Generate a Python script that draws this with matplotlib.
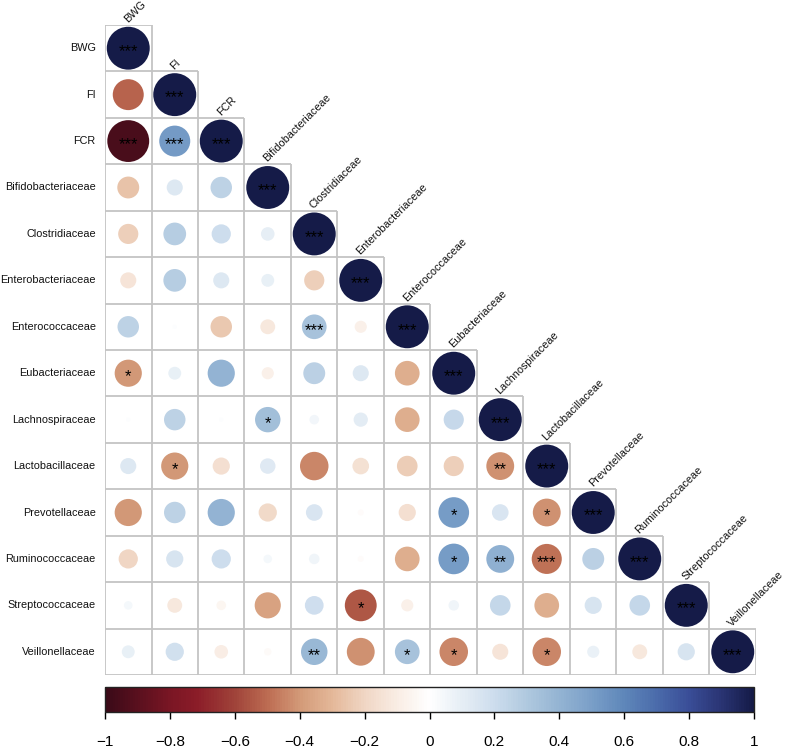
import numpy as np
import matplotlib
matplotlib.use("Agg")
import matplotlib.pyplot as plt
from matplotlib.colors import LinearSegmentedColormap, Normalize
from matplotlib.patches import Circle
from matplotlib.collections import PatchCollection
from matplotlib.colorbar import ColorbarBase

plt.rcParams['font.family'] = ['Liberation Sans', 'DejaVu Sans']

labels = ["BWG", "FI", "FCR", "Bifidobacteriaceae", "Clostridiaceae",
          "Enterobacteriaceae", "Enterococcaceae", "Eubacteriaceae",
          "Lachnospiraceae", "Lactobacillaceae", "Prevotellaceae",
          "Ruminococcaceae", "Streptococcaceae", "Veillonellaceae"]

# lower-triangle correlation values (row i, columns 0..i)
corr_rows = [
    [1],
    [-0.52, 1],
    [-0.95, 0.52, 1],
    [-0.26, 0.14, 0.25, 1],
    [-0.22, 0.28, 0.20, 0.10, 1],
    [-0.14, 0.28, 0.14, 0.09, -0.22, 1],
    [0.25, 0.01, -0.25, -0.12, 0.33, -0.08, 1],
    [-0.40, 0.09, 0.40, -0.08, 0.26, 0.14, -0.33, 1],
    [0.01, 0.25, 0.01, 0.35, 0.05, 0.11, -0.33, 0.22, 1],
    [0.14, -0.40, -0.16, 0.13, -0.44, -0.15, -0.23, -0.22, -0.42, 1],
    [-0.40, 0.25, 0.40, -0.18, 0.15, -0.02, -0.16, 0.51, 0.15, -0.42, 1],
    [-0.20, 0.16, 0.20, 0.04, 0.06, -0.02, -0.33, 0.51, 0.42, -0.49, 0.26, 1],
    [0.04, -0.12, -0.05, -0.37, 0.19, -0.55, -0.08, 0.06, 0.23, -0.33, 0.16, 0.23, 1],
    [0.09, 0.18, -0.10, -0.03, 0.38, -0.42, 0.33, -0.44, -0.14, -0.44, 0.08, -0.12, 0.16, 1],
]

# significance marks (lower triangle)
sig_rows = [
    ["***"],
    ["", "***"],
    ["***", "***", "***"],
    ["", "", "", "***"],
    ["", "", "", "", "***"],
    ["", "", "", "", "", "***"],
    ["", "", "", "", "***", "", "***"],
    ["*", "", "", "", "", "", "", "***"],
    ["", "", "", "*", "", "", "", "", "***"],
    ["", "*", "", "", "", "", "", "", "**", "***"],
    ["", "", "", "", "", "", "", "*", "", "*", "***"],
    ["", "", "", "", "", "", "", "*", "**", "***", "", "***"],
    ["", "", "", "", "", "*", "", "", "", "", "", "", "***"],
    ["", "", "", "", "**", "", "*", "*", "", "*", "", "", "", "***"],
]

cbar_ticks = [-1, -0.8, -0.6, -0.4, -0.2, 0, 0.2, 0.4, 0.6, 0.8, 1]

cmap_colors = ["#3a0a18", "#7a1624", "#8b1c28", "#a0443a", "#bd6c52", "#d39a78",
               "#e4b899", "#f0d6c4", "#f9ede4", "#ffffff",
               "#e6eef5", "#cddded", "#b0c9df", "#94b4d3", "#7a9fc8", "#5f87ba",
               "#4b6cab", "#3a4e98", "#2a3574", "#151b48"]
cmap_pos = [0.0, 0.1, 0.14, 0.2, 0.25, 0.3, 0.35, 0.4, 0.45, 0.5,
            0.55, 0.6, 0.65, 0.7, 0.75, 0.8, 0.85, 0.9, 0.95, 1.0]
cmap = LinearSegmentedColormap.from_list("corr", list(zip(cmap_pos, cmap_colors)))
norm = Normalize(-1, 1)

W, H = 787, 748
fig = plt.figure(figsize=(W / 100, H / 100), dpi=100)
x0, x1, y0, y1 = 105, 756, 25, 675
ax = fig.add_axes([x0 / W, (H - y1) / H, (x1 - x0) / W, (y1 - y0) / H])
n = len(labels)
ax.set_xlim(-0.5, n - 0.5)
ax.set_ylim(n - 0.5, -0.5)
ax.axis("off")

# grid
gcol = "#c4c4c4"
for i in range(n):
    ax.hlines(i - 0.5, -0.5, i + 0.5, color=gcol, lw=1.3, zorder=1)
ax.hlines(n - 0.5, -0.5, n - 0.5, color=gcol, lw=1.3, zorder=1)
for j in range(n):
    ax.vlines(j - 0.5, max(j - 1.5, -0.5), n - 0.5, color=gcol, lw=1.3, zorder=1)
ax.vlines(n - 0.5, n - 1.5, n - 0.5, color=gcol, lw=1.3, zorder=1)

patches, vals = [], []
for i, row in enumerate(corr_rows):
    for j, r in enumerate(row):
        patches.append(Circle((j, i), 0.462 * np.sqrt(abs(r))))
        vals.append(r)
pc = PatchCollection(patches, cmap=cmap, norm=norm, edgecolor="none", zorder=2)
pc.set_array(np.array(vals))
ax.add_collection(pc)

for i, row in enumerate(sig_rows):
    for j, s in enumerate(row):
        if s:
            ax.text(j, i + 0.075, s, ha="center", va="center", fontsize=12,
                    color="black", zorder=3)

for i, lab in enumerate(labels):
    ax.text(-0.7, i, lab, ha="right", va="center", fontsize=7.8, color="#111111")
    ax.text(i + 0.02, i - 0.51, lab, ha="left", va="bottom", rotation=45,
            rotation_mode="anchor", fontsize=7.8, color="#111111")

cax = fig.add_axes([x0 / W, (H - 712) / H, (754 - x0) / W, 25 / H])
cb = ColorbarBase(cax, cmap=cmap, norm=norm, orientation="horizontal", ticks=cbar_ticks)
cb.outline.set_linewidth(1.0)
cb.outline.set_edgecolor("#222222")
cax.tick_params(axis="x", length=5, width=1, pad=11.5, labelsize=11)
cax.set_xticklabels([("\u2212" + f"{abs(t):g}") if t < 0 else f"{t:g}" for t in cbar_ticks])

fig.savefig("out.png", dpi=100)
